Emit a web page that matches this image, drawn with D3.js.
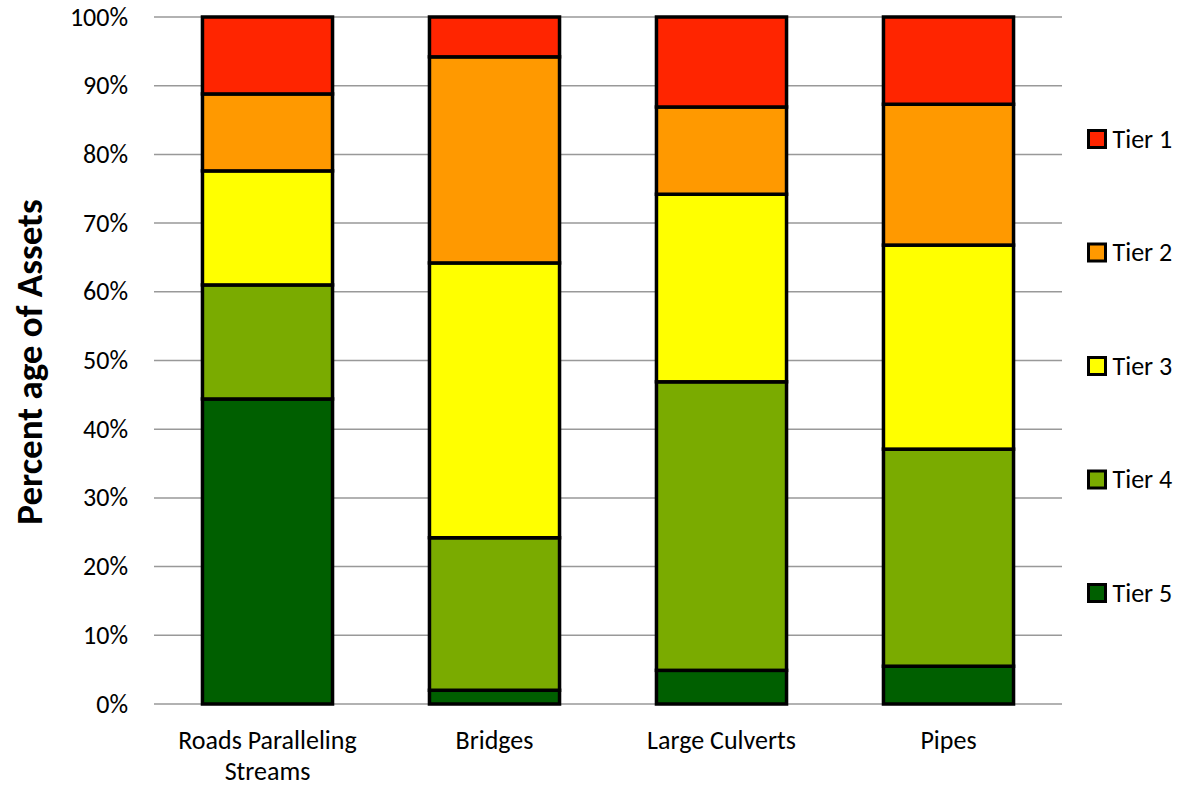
<!DOCTYPE html>
<html>
<head>
<meta charset="utf-8">
<script src="https://cdn.jsdelivr.net/npm/d3@7"></script>
<style>
  body { margin: 0; background: #fff; }
  text { font-family: Calibri, Carlito, "Open Sans", sans-serif; fill: #000; }
</style>
</head>
<body>
<div id="chart"></div>
<script>
// categories and tiers
const categories = ["Roads Paralleling Streams", "Bridges", "Large Culverts", "Pipes"];
const tiers = ["Tier 5", "Tier 4", "Tier 3", "Tier 2", "Tier 1"];
const colors = ["#005f00", "#7aab00", "#ffff00", "#ff9900", "#ff2500"];

// percent per tier (bottom to top)
const tier5 = [44.4, 2.0, 4.9, 5.5];
const tier4 = [16.6, 22.2, 42.0, 31.6];
const tier3 = [16.6, 40.0, 27.3, 29.7];
const tier2 = [11.2, 30.0, 12.7, 20.5];
const tier1 = [11.2, 5.8, 13.1, 12.7];

const yTicks = [0, 10, 20, 30, 40, 50, 60, 70, 80, 90, 100];

main();

function main() {
    let width = 1184, height = 787;
    let left = 154, right = 1062, top = 17, bottom = 704;

    let svg = d3.select("#chart").append("svg")
        .attr("width", width)
        .attr("height", height);

    let x = d3.scaleBand()
        .domain(categories)
        .range([left, right])
        .paddingInner(0.427)
        .paddingOuter(0.2135);

    let y = d3.scaleLinear()
        .domain([0, 100])
        .range([bottom, top]);

    //gridlines
    svg.append("g").selectAll("line")
        .data(yTicks)
        .enter()
        .append("line")
        .attr("x1", left)
        .attr("x2", right)
        .attr("y1", d => y(d))
        .attr("y2", d => y(d))
        .style("stroke", "#999")
        .style("stroke-width", 1.5);

    //tick labels
    svg.append("g").selectAll("text")
        .data(yTicks)
        .enter()
        .append("text")
        .attr("x", 128)
        .attr("y", d => y(d))
        .attr("dy", "0.33em")
        .attr("text-anchor", "end")
        .attr("font-size", 26)
        .text(d => d + "%");

    //stack
    let rows = categories.map((c, i) => ({
        cat: c,
        "Tier 5": tier5[i], "Tier 4": tier4[i], "Tier 3": tier3[i],
        "Tier 2": tier2[i], "Tier 1": tier1[i]
    }));
    let series = d3.stack().keys(tiers)(rows);

    series.forEach((s, k) => {
        svg.append("g").selectAll("rect")
            .data(s)
            .enter()
            .append("rect")
            .attr("x", d => x(d.data.cat))
            .attr("y", d => y(d[1]))
            .attr("width", x.bandwidth())
            .attr("height", d => y(d[0]) - y(d[1]))
            .style("fill", colors[k])
            .style("stroke", "#000")
            .style("stroke-width", 3.5);
    });

    //category labels
    let catLabels = svg.append("g").selectAll("text")
        .data(categories)
        .enter()
        .append("text")
        .attr("x", d => x(d) + x.bandwidth() / 2)
        .attr("y", 749)
        .attr("text-anchor", "middle")
        .attr("font-size", 26);
    catLabels.each(function (d) {
        let words = d === "Roads Paralleling Streams" ? ["Roads Paralleling", "Streams"] : [d];
        let t = d3.select(this);
        words.forEach((w, i) => {
            t.append("tspan")
                .attr("x", x(d) + x.bandwidth() / 2)
                .attr("dy", i === 0 ? 0 : 31)
                .text(w);
        });
    });

    //axis title
    svg.append("text")
        .attr("transform", "translate(42,362) rotate(-90)")
        .attr("text-anchor", "middle")
        .attr("font-size", 37)
        .attr("font-weight", "bold")
        .text("Percent age of Assets");

    //legend
    let legendOrder = tiers.slice().reverse();
    let lg = svg.append("g").selectAll("g")
        .data(legendOrder)
        .enter()
        .append("g")
        .attr("transform", (d, i) => "translate(1088.5," + (139 + i * 113.5) + ")");
    lg.append("rect")
        .attr("x", 0)
        .attr("y", -8.5)
        .attr("width", 17)
        .attr("height", 17)
        .style("fill", d => colors[tiers.indexOf(d)])
        .style("stroke", "#000")
        .style("stroke-width", 3);
    lg.append("text")
        .attr("x", 24)
        .attr("dy", "0.33em")
        .attr("font-size", 26)
        .text(d => d);
}
</script>
</body>
</html>
